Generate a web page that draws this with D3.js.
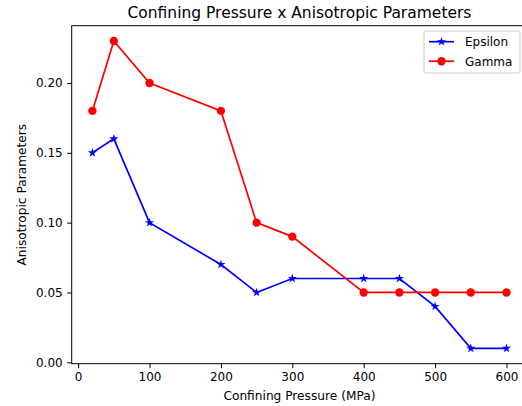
<!DOCTYPE html>
<html>
<head>
<meta charset="utf-8">
<script src="https://cdn.jsdelivr.net/npm/d3@7"></script>
<style>
	body { margin: 0; background: #fff; }
	svg { display: block; font-family: "DejaVu Sans", sans-serif; }
</style>
</head>
<body>
<svg id="svgarea" width="522" height="406"></svg>
<script>
// data
const pressure		= [20, 50, 100, 200, 250, 300, 400, 450, 500, 550, 600];
const epsilon		= [0.15, 0.16, 0.10, 0.07, 0.05, 0.06, 0.06, 0.06, 0.04, 0.01, 0.01];
const gamma			= [0.18, 0.23, 0.20, 0.18, 0.10, 0.09, 0.05, 0.05, 0.05, 0.05, 0.05];
const xTicks		= [0, 100, 200, 300, 400, 500, 600];
const yTicks		= [0.00, 0.05, 0.10, 0.15, 0.20];
const seriesNames	= ['Epsilon', 'Gamma'];

// plot box (right edge runs off the picture, as in the reference)
const boxLeft = 71.7, boxRight = 527.2, boxTop = 25.7, boxBottom = 363.7;

var svg = d3.select('#svgarea');
var x = d3.scaleLinear().domain([-9, 629]).range([boxLeft, boxRight]);
var y = d3.scaleLinear().domain([-0.001, 0.241]).range([boxBottom, boxTop]);

// frame
svg.append('rect')
	.attr('x', boxLeft).attr('y', boxTop)
	.attr('width', boxRight - boxLeft).attr('height', boxBottom - boxTop)
	.attr('fill', 'none').attr('stroke', '#000').attr('stroke-width', 1);

// axes
var gx = svg.append('g').attr('transform', 'translate(0,' + boxBottom + ')')
	.call(d3.axisBottom(x).tickValues(xTicks).tickSize(4.5).tickPadding(4.5).tickFormat(d3.format('d')));
var gy = svg.append('g').attr('transform', 'translate(' + boxLeft + ',0)')
	.call(d3.axisLeft(y).tickValues(yTicks).tickSize(4.5).tickPadding(4.5).tickFormat(d3.format('.2f')));
[gx, gy].forEach(function(g){
	g.select('.domain').remove();
	g.selectAll('text').attr('font-size', 12).attr('fill', '#000').attr('font-family', 'DejaVu Sans');
	g.selectAll('line').attr('stroke', '#000');
});

// series
var series = [
	{name: seriesNames[0], values: epsilon, color: '#0000ff', marker: 'star'},
	{name: seriesNames[1], values: gamma, color: '#ff0000', marker: 'circle'}
];
var line = d3.line().x(function(d){ return x(d[0]); }).y(function(d){ return y(d[1]); });

function drawMarker(g, kind, color, cx, cy){
	if(kind === 'circle'){
		g.append('circle').attr('cx', cx).attr('cy', cy).attr('r', 4.2).attr('fill', color);
	} else {
		g.append('path').attr('d', d3.symbol(d3.symbolStar, 26)())
			.attr('transform', 'translate(' + cx + ',' + cy + ')').attr('fill', color);
	}
}

series.forEach(function(s){
	var pts = pressure.map(function(p, i){ return [p, s.values[i]]; });
	var g = svg.append('g');
	g.append('path').attr('d', line(pts))
		.attr('fill', 'none').attr('stroke', s.color).attr('stroke-width', 1.7);
	pts.forEach(function(p){ drawMarker(g, s.marker, s.color, x(p[0]), y(p[1])); });
});

// title and labels
svg.append('text').attr('x', (boxLeft + boxRight) / 2).attr('y', 17.5)
	.attr('text-anchor', 'middle').attr('font-size', 15.5).text('Confining Pressure x Anisotropic Parameters');
svg.append('text').attr('x', (boxLeft + boxRight) / 2).attr('y', 400)
	.attr('text-anchor', 'middle').attr('font-size', 12.2).text('Confining Pressure (MPa)');
svg.append('text').attr('transform', 'translate(26,' + ((boxTop + boxBottom) / 2) + ') rotate(-90)')
	.attr('text-anchor', 'middle').attr('font-size', 12.2).text('Anisotropic Parameters');

// legend
var lg = svg.append('g');
lg.append('rect').attr('x', 424).attr('y', 31).attr('width', 96).attr('height', 42)
	.attr('rx', 2.5).attr('fill', '#fff').attr('fill-opacity', 0.8)
	.attr('stroke', '#cccccc').attr('stroke-width', 1);
series.forEach(function(s, i){
	var ly = 41.7 + i * 19.5;
	lg.append('line').attr('x1', 429).attr('x2', 454).attr('y1', ly).attr('y2', ly)
		.attr('stroke', s.color).attr('stroke-width', 1.7);
	drawMarker(lg, s.marker, s.color, 441.5, ly);
	lg.append('text').attr('x', 465).attr('y', ly + 4.3).attr('font-size', 12).text(s.name);
});
</script>
</body>
</html>
